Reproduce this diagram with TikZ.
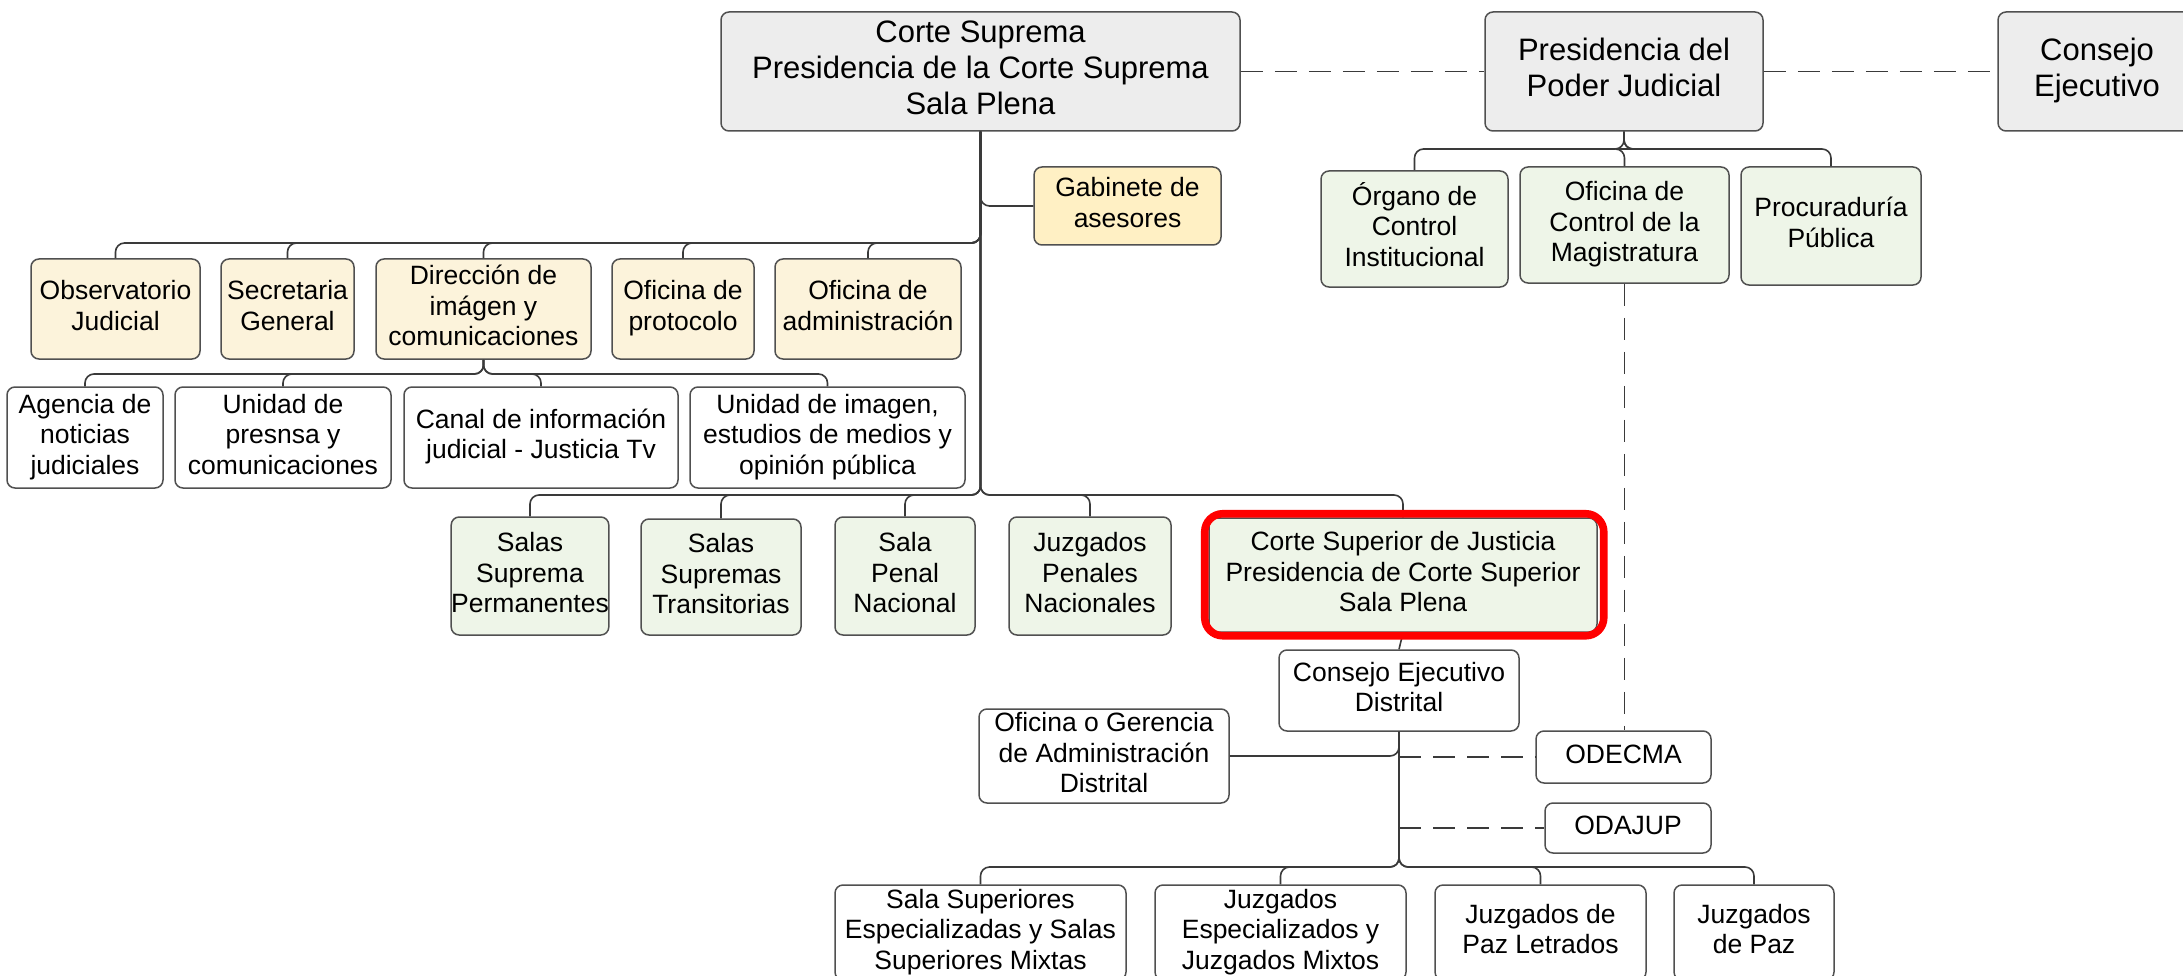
\documentclass[tikz,border=0pt]{standalone}
\usepackage{fontspec}
\setmainfont{Liberation Sans}
\definecolor{topgray}{HTML}{EDEDED}
\definecolor{cream}{HTML}{FCF3DB}
\definecolor{creamdark}{HTML}{FFF0C4}
\definecolor{palegreen}{HTML}{EEF5E8}
\definecolor{boxline}{HTML}{505050}
\definecolor{linkline}{HTML}{3A3A3A}
\definecolor{frame}{HTML}{FF0000}
% box from (x1,y1) to (x2,y2), y pointing down; lines stacked with struts
\newcommand{\orgbox}[7]{%
  \node[box,#2,minimum width={(#5-#3)*1pt},minimum height={(#6-#4)*1pt}]
    (#1) at ({(#3+#5)/2},{(#4+#6)/2}) {\begin{tabular}{@{}c@{}}#7\end{tabular}};}
\begin{document}
\begin{tikzpicture}[x=1pt,y=-1pt,
  box/.style={draw=boxline, line width=1.5pt, rounded corners=8pt,
    inner sep=0pt, text=black, fill=white, font=\fontsize{26.5}{30.6}\selectfont},
  big/.style={fill=topgray, font=\fontsize{31}{36}\selectfont},
  yel/.style={fill=cream},
  yelB/.style={fill=creamdark},
  grn/.style={fill=palegreen},
  redframe/.style={draw=frame, line width=7.6pt, rounded corners=18pt},
  conn/.style={draw=linkline, line width=1.6pt, rounded corners=9pt},
  dconn/.style={draw=linkline, line width=1.6pt, dash pattern=on 22pt off 12pt},
]
\useasboundingbox (0,0) rectangle (2183,976);
\fill[white] (0,0) rectangle (2183,976);
\clip (0,0) rectangle (2183,976);

% bus levels
\coordinate (bPJ) at (0,149);
\coordinate (bA) at (0,243);
\coordinate (bB) at (0,374);
\coordinate (bC) at (0,495);
\coordinate (bD) at (0,867);

% top level
\orgbox{cs}{big}{721}{12}{1240}{131}{Corte Suprema\\Presidencia de la Corte Suprema\\Sala Plena}
\orgbox{pj}{big}{1485}{12}{1763}{131}{Presidencia del\\Poder Judicial}
\orgbox{ce}{big}{1998}{12}{2196}{131}{Consejo\\Ejecutivo}

% advisory and support offices
\orgbox{gab}{yelB}{1034}{167}{1221}{245}{Gabinete de\\asesores}
\orgbox{obs}{yel}{31}{259}{200}{359}{Observatorio\\Judicial}
\orgbox{sg}{yel}{221}{259}{354}{359}{Secretaria\\General}
\orgbox{dic}{yel}{376}{259}{591}{359}{Dirección de\\imágen y\\comunicaciones}
\orgbox{op}{yel}{612}{259}{754}{359}{Oficina de\\protocolo}
\orgbox{oa}{yel}{775}{259}{961}{359}{Oficina de\\administración}

% communication units
\orgbox{anj}{}{7}{387}{163}{488}{Agencia de\\noticias\\judiciales}
\orgbox{upc}{}{175}{387}{391}{488}{Unidad de\\presnsa y\\comunicaciones}
\orgbox{cij}{}{404}{387}{678}{488}{Canal de información\\judicial - Justicia Tv}
\orgbox{uie}{}{690}{387}{965}{488}{Unidad de imagen,\\estudios de medios y\\opinión pública}

% jurisdictional bodies
\orgbox{ssp}{grn}{452}{517}{608}{635}{Salas\\Suprema\\Permanentes}
\orgbox{sst}{grn}{641}{519}{801}{635}{Salas\\Supremas\\Transitorias}
\orgbox{spn}{grn}{835}{517}{975}{635}{Sala\\Penal\\Nacional}
\orgbox{jpn}{grn}{1009}{517}{1171}{635}{Juzgados\\Penales\\Nacionales}
\orgbox{csj}{grn}{1209}{518}{1597}{632}{Corte Superior de Justicia\\Presidencia de Corte Superior\\Sala Plena}

% Presidencia del Poder Judicial
\orgbox{oci}{grn}{1321}{171}{1508}{287}{Órgano de\\Control\\Institucional}
\orgbox{ocm}{grn}{1520}{167}{1729}{283}{Oficina de\\Control de la\\Magistratura}
\orgbox{pp}{grn}{1741}{167}{1921}{285}{Procuraduría\\Pública}

% district level
\orgbox{ced}{}{1279}{650}{1519}{731}{Consejo Ejecutivo\\Distrital}
\orgbox{oga}{}{979}{709}{1229}{803}{Oficina o Gerencia\\de Administración\\Distrital}
\orgbox{odecma}{}{1536}{731}{1711}{783}{ODECMA}
\orgbox{odajup}{}{1545}{803}{1711}{853}{ODAJUP}
\orgbox{ss}{}{835}{885}{1126}{980}{Sala Superiores\\Especializadas y Salas\\Superiores Mixtas}
\orgbox{je}{}{1155}{885}{1406}{980}{Juzgados\\Especializados y\\Juzgados Mixtos}
\orgbox{jpl}{}{1435}{885}{1646}{980}{Juzgados de\\Paz Letrados}
\orgbox{jp}{}{1674}{885}{1834}{980}{Juzgados\\de Paz}

% coordination links
\draw[dconn] (cs.east) -- (pj.west);
\draw[dconn] (pj.east) -- (ce.west);

% Corte Suprema tree
\draw[conn] (cs.south) |- (gab.west);
\foreach \c in {obs,sg,dic,op,oa}
  \draw[conn] (cs.south) -- (cs.south |- bA) -| (\c.north);
\foreach \c in {anj,upc,cij,uie}
  \draw[conn] (dic.south) -- (dic.south |- bB) -| (\c.north);
\foreach \c in {ssp,sst,spn,jpn,csj}
  \draw[conn] (cs.south) -- (cs.south |- bC) -| (\c.north);

% Presidencia del Poder Judicial tree
\foreach \c in {oci,ocm,pp}
  \draw[conn] (pj.south) -- (pj.south |- bPJ) -| (\c.north);
\draw[dconn] (ocm.south) -- (ocm.south |- odecma.north);

% Corte Superior tree
\draw[conn] (csj.south) -- (ced.north);
\draw[conn] (ced.south) |- (oga.east);
\foreach \c in {ss,je,jpl,jp}
  \draw[conn] (ced.south) -- (ced.south |- bD) -| (\c.north);
\draw[dconn] (ced.south |- odecma.west) -- (odecma.west);
\draw[dconn] (ced.south |- odajup.west) -- (odajup.west);

% highlight around the Corte Superior
\draw[redframe] ([xshift=-3.5pt,yshift=3.5pt]csj.north west)
  rectangle ([xshift=6pt,yshift=-3pt]csj.south east);
\end{tikzpicture}
\end{document}
